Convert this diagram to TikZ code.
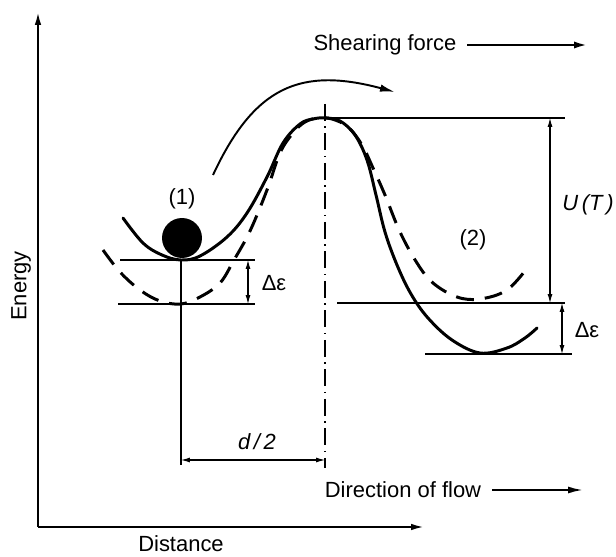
\documentclass[tikz,border=0pt]{standalone}
\usepackage{fontspec}
\setmainfont{Liberation Sans}
\usetikzlibrary{
    arrows.meta
}

\begin{document}
\begin{tikzpicture}[
    x=0.02cm, y=0.02cm,
    font=\fontsize{12.5}{15}\selectfont,
    axis/.style={
        line width=1.1pt,
        -{Latex[length=2.6mm,width=1.3mm]}
    },
    well/.style={
        line width=1.7pt,
        line cap=round
    },
    shifted/.style={
        line width=1.7pt,
        dash pattern=on 3.6mm off 2.2mm
    },
    level/.style={
        line width=0.6pt
    },
    dim/.style={
        line width=0.6pt,
        {Latex[length=1.8mm,width=1mm]}-{Latex[length=1.8mm,width=1mm]}
    },
    symline/.style={
        line width=0.9pt,
        dash pattern=on 3.4mm off 1.1mm on 0.3mm off 1.1mm
    },
    swing/.style={
        line width=1.1pt,
        -{Latex[length=3mm,width=1.5mm]}
    },
    force/.style={
        line width=1.6pt,
        -{Latex[length=3mm,width=1.4mm]}
    },
    ball/.style={
        circle,
        fill=black,
        minimum size=0.8cm,
        inner sep=0pt
    },
    note/.style={
        inner sep=2pt
    }
]
\useasboundingbox (0,0) rectangle (616,-557);

% =========================================================
% Axes
% =========================================================
\coordinate (origin) at (38,-527);
\coordinate (ytop) at (38,-12);
\coordinate (xend) at (424,-527);

\draw[axis] (origin) -- (ytop);
\draw[axis] (origin) -- (xend);

\node[rotate=90] (energy) at (21,-286) {Energy};
\node (distance) at (181,-544) {Distance};

% =========================================================
% Energy curves
% =========================================================
\draw[well] plot[smooth, tension=0.6] coordinates {
    (123,-218) (143,-243) (162,-255) (181,-260) (200,-256) (227,-237)
    (247,-213) (267,-177) (283,-143) (300,-124) (313,-119) (325,-118)
    (340,-121) (355,-135) (367,-160) (376,-195) (385,-232) (397,-265)
    (411,-294) (428,-318) (452,-340) (480,-353) (507,-348) (525,-338)
    (537,-328)
};

\draw[shifted] plot[smooth, tension=0.6] coordinates {
    (103,-250) (120,-272) (140,-290) (160,-301) (181,-304) (200,-297)
    (220,-283) (234,-260) (250,-231) (267,-190) (280,-153) (293,-133)
    (305,-122) (318,-118) (332,-119) (348,-127) (362,-145) (373,-168)
    (385,-195) (400,-232) (417,-263) (433,-283) (457,-297) (480,-299)
    (507,-290) (528,-267)
};

\node[ball] (ball) at (182,-238) {};
\node (well1) at (182,-199) {(1)};
\node (well2) at (473,-240) {(2)};

% =========================================================
% Levels and dimensions
% =========================================================
\coordinate (min1) at (181,-260);
\coordinate (foot1) at (181,-465);
\coordinate (peaktop) at (325,-104);
\coordinate (peakfoot) at (325,-468);

\draw[level] (120,-260) -- (255,-260);
\draw[level] (118,-304) -- (255,-304);
\draw[level] (330,-118) -- (565,-118);
\draw[level] (337,-303) -- (565,-303);
\draw[level] (425,-354) -- (572,-354);

\draw[level] (min1) -- (foot1);
\draw[symline] (peaktop) -- (peakfoot);

\draw[dim] (248,-260) -- (248,-304);
\node (deps1) at (274,-283) {Δε};

\draw[dim] (550,-118) -- (550,-303);
\node (barrier) at (588,-205) {\itshape U\,(T\,)};

\draw[dim] (562,-303) -- (562,-354);
\node (deps2) at (587,-330) {Δε};

\draw[dim] (181,-460) -- (325,-460);
\node (halfd) at (257,-442) {\itshape d\,/\,2};

% =========================================================
% Motion labels
% =========================================================
\coordinate (swingstart) at (213,-175);
\coordinate (swingend) at (395,-92);
\draw[swing] (swingstart) to[out=65,in=165,looseness=1.25] (swingend);

\node[note] (shear) at (385,-45) {Shearing force};
\coordinate (shearend) at (589,-45);
\draw[force] ([xshift=4pt]shear.east) -- (shearend);

\node[note] (flow) at (403,-490) {Direction of flow};
\coordinate (flowend) at (583,-490);
\draw[force, line width=1.1pt] ([xshift=4pt]flow.east) -- (flowend);

\end{tikzpicture}
\end{document}
